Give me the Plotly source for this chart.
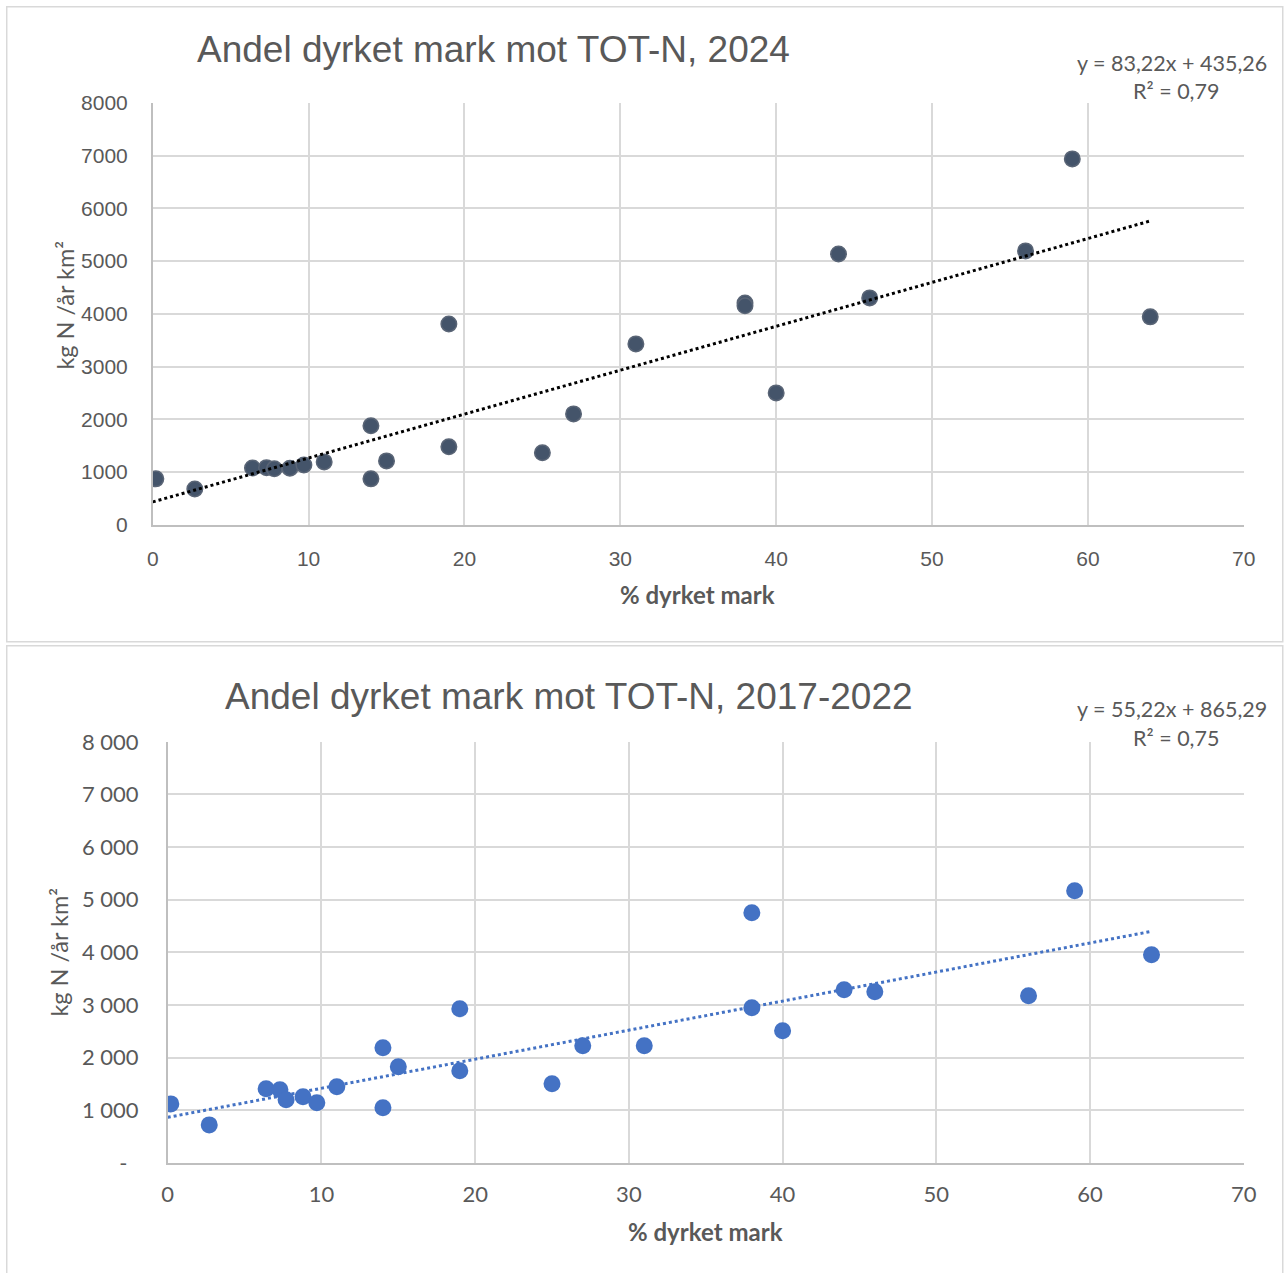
import plotly.graph_objects as go

W, H = 1284, 1273

# ---------------- data ----------------
# 2024
x_2024 = [0.2, 2.7, 6.4, 7.3, 7.8, 8.8, 9.7, 11, 14, 14, 15, 19, 19, 25, 27, 31,
          38, 38, 40, 44, 46, 56, 59, 64]
y_2024 = [872, 682, 1080, 1085, 1062, 1075, 1137, 1194, 1877, 872, 1213, 3810, 1479,
          1365, 2104, 3431, 4208, 4152, 2502, 5137, 4303, 5194, 6938, 3943]

# 2017-2022
x_1722 = [0.2, 2.7, 6.4, 7.3, 7.7, 8.8, 9.7, 11, 14, 14, 15, 19, 19, 25, 27, 31,
          38, 38, 40, 44, 46, 56, 59, 64]
y_1722 = [1121, 722, 1407, 1388, 1198, 1255, 1141, 1445, 2186, 1046, 1825, 2928, 1749,
          1502, 2224, 2224, 4753, 2947, 2510, 3289, 3251, 3175, 5171, 3954]

# trend lines (from the printed equations)
trend_2024 = (83.22, 435.26)
trend_1722 = (55.22, 865.29)
trend_x = [0, 64]

x_ticks = [0, 10, 20, 30, 40, 50, 60, 70]
y_ticks = [0, 1000, 2000, 3000, 4000, 5000, 6000, 7000, 8000]
y_text_2024 = ["0", "1000", "2000", "3000", "4000", "5000", "6000", "7000", "8000"]
y_text_1722 = ["-\u00a0\u00a0", "1 000", "2 000", "3 000", "4 000", "5 000",
               "6 000", "7 000", "8 000"]


# screen pixel -> paper coords (the page comes out slightly scaled/offset)
def px(x):
    x = 152 + (x - 152) * 1091 / 1089
    return (x - 5.0) / 0.987 / W


def py(y):
    y = (y - 1.5) / 0.9953
    return 1 - (y - 12.7) / 0.9834 / H


GREY = "#595959"
GRID = "#d9d9d9"
CAL = "Lato, Carlito, Calibri, sans-serif"
ARI = "Liberation Sans, Arial, sans-serif"

fig = go.Figure()

# top chart
fig.add_trace(go.Scatter(x=x_2024, y=y_2024, mode="markers", xaxis="x", yaxis="y",
                         marker=dict(size=15.5, color="#44546A",
                                     line=dict(color="#5a6576", width=1.5)),
                         showlegend=False))
fig.add_trace(go.Scatter(x=trend_x, y=[trend_2024[0] * v + trend_2024[1] for v in trend_x],
                         mode="lines", xaxis="x", yaxis="y",
                         line=dict(color="black", width=3, dash="dot"), showlegend=False))

# bottom chart
fig.add_trace(go.Scatter(x=trend_x, y=[trend_1722[0] * v + trend_1722[1] for v in trend_x],
                         mode="lines", xaxis="x2", yaxis="y2",
                         line=dict(color="#4472C4", width=3, dash="dot"), showlegend=False))
fig.add_trace(go.Scatter(x=x_1722, y=y_1722, mode="markers", xaxis="x2", yaxis="y2",
                         marker=dict(size=17, color="#4472C4",
                                     line=dict(color="#4472C4", width=0)),
                         showlegend=False))

axis_common = dict(range=[0, 70], tickvals=x_ticks, showgrid=True, gridcolor=GRID,
                   gridwidth=1.5, zeroline=False, showline=True, linecolor="#bfbfbf",
                   linewidth=1.5, mirror=False, ticks="", fixedrange=True)
yaxis_common = dict(range=[0, 8000], tickvals=y_ticks, showgrid=True, gridcolor=GRID,
                    gridwidth=1.5, zeroline=False, showline=True, linecolor="#bfbfbf",
                    linewidth=1.5, ticks="", fixedrange=True)

fig.update_layout(
    width=W, height=H,
    margin=dict(l=0, r=0, t=0, b=0),
    paper_bgcolor="white", plot_bgcolor="white",
    xaxis=dict(axis_common, domain=[px(152), px(1243)], anchor="y",
               tickfont=dict(family=ARI, size=21, color=GREY), ticklabelstandoff=14),
    yaxis=dict(yaxis_common, domain=[py(525), py(103)], anchor="x",
               ticktext=y_text_2024,
               tickfont=dict(family=ARI, size=21, color=GREY), ticklabelstandoff=19),
    xaxis2=dict(axis_common, domain=[px(167), px(1243)], anchor="y2",
                tickfont=dict(family=CAL, size=22, color=GREY), ticklabelstandoff=11),
    yaxis2=dict(yaxis_common, domain=[py(1163), py(742)], anchor="x2",
                ticktext=y_text_1722,
                tickfont=dict(family=CAL, size=22, color=GREY), ticklabelstandoff=23),
)

ann = []


def text(x, y, s, size, family, bold=False, angle=0, xanchor="center"):
    if bold:
        s = "<b>" + s + "</b>"
    ann.append(dict(x=px(x), y=py(y), xref="paper", yref="paper", text=s,
                    showarrow=False, xanchor=xanchor, yanchor="middle", textangle=angle,
                    font=dict(family=family, size=size, color=GREY)))


text(493, 50, "Andel dyrket mark mot TOT-N, 2024", 37, ARI)
text(1268, 63, "y = 83,22x + 435,26", 21.5, CAL, xanchor="right")
text(1175, 91, "R² = 0,79", 21.5, CAL)
text(697, 595, "% dyrket mark", 24, CAL, bold=True)
text(64, 305, "kg N /år km²", 23.5, CAL, angle=-90)

text(568, 697, "Andel dyrket mark mot TOT-N, 2017-2022", 37, ARI)
text(1268, 709, "y = 55,22x + 865,29", 21.5, CAL, xanchor="right")
text(1175, 738, "R² = 0,75", 21.5, CAL)
text(705, 1232, "% dyrket mark", 24, CAL, bold=True)
text(58, 952, "kg N /år km²", 23.5, CAL, angle=-90)

fig.update_layout(annotations=ann)

# panel frames
fig.add_shape(type="rect", xref="paper", yref="paper",
              x0=px(6), x1=px(1282), y0=py(642), y1=py(7),
              line=dict(color="#d9d9d9", width=1.5), fillcolor="rgba(0,0,0,0)")
fig.add_shape(type="rect", xref="paper", yref="paper",
              x0=px(6), x1=px(1282), y0=py(1290), y1=py(646),
              line=dict(color="#d9d9d9", width=1.5), fillcolor="rgba(0,0,0,0)")

fig.write_html("out.html", config={"displayModeBar": False},
               post_script="document.body.style.margin='0';document.body.style.overflow='hidden';")
